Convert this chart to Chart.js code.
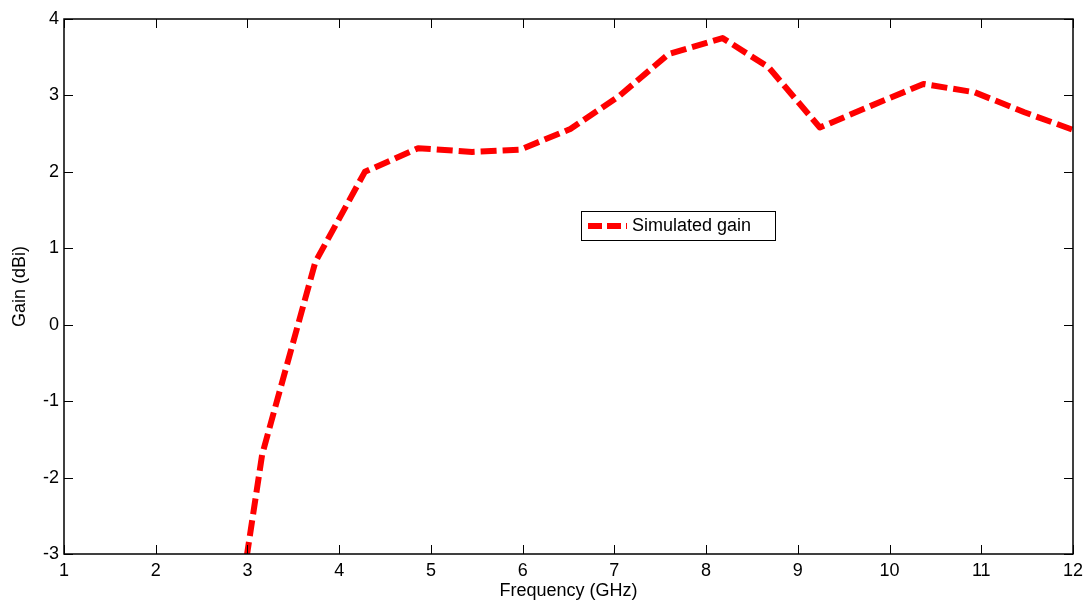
<!DOCTYPE html>
<html><head><meta charset="utf-8">
<script src="https://cdn.jsdelivr.net/npm/chart.js@4"></script>
<style>html,body{margin:0;padding:0;background:#fff}#wrap{width:1087px;height:601px}</style>
</head><body><div id="wrap"><canvas id="c" width="1087" height="601"></canvas></div>
<script>
const frequencies = [2.99, 3.16, 3.74, 4.28, 4.86, 5.45, 5.97, 6.52, 7.05, 7.59, 8.18, 8.68, 9.24, 9.79, 10.37, 10.93, 11.47, 12.0];
const gains = [-3.05, -1.70, 0.82, 2.00, 2.31, 2.26, 2.29, 2.56, 2.99, 3.54, 3.75, 3.37, 2.58, 2.86, 3.15, 3.04, 2.78, 2.55];
const xTicks = [1,2,3,4,5,6,7,8,9,10,11,12];
const yTicks = [-3,-2,-1,0,1,2,3,4];
const seriesLabel = 'Simulated gain';

const FONT = 'Liberation Sans, Arial, sans-serif';
const boxPlugin = {
  id: 'boxPlugin',
  afterDatasetsDraw(chart) {
    const {ctx, chartArea: a, scales} = chart;
    ctx.save();
    ctx.strokeStyle = '#000';
    ctx.lineWidth = 1;
    const L = 9;
    ctx.beginPath();
    xTicks.forEach(v => {
      const px = Math.round(scales.x.getPixelForValue(v)) + 0.5;
      ctx.moveTo(px, a.bottom); ctx.lineTo(px, a.bottom - L);
      ctx.moveTo(px, a.top); ctx.lineTo(px, a.top + L);
    });
    yTicks.forEach(v => {
      const py = Math.round(scales.y.getPixelForValue(v)) + 0.5;
      ctx.moveTo(a.left, py); ctx.lineTo(a.left + L, py);
      ctx.moveTo(a.right, py); ctx.lineTo(a.right - L, py);
    });
    ctx.stroke();
    ctx.lineWidth = 1.5;
    ctx.strokeRect(a.left, a.top, a.right - a.left, a.bottom - a.top);
    // legend
    const lx = 581, ly = 211, lw = 194, lh = 29;
    ctx.fillStyle = '#fff';
    ctx.fillRect(lx, ly, lw, lh);
    ctx.lineWidth = 1;
    ctx.strokeRect(lx + 0.5, ly + 0.5, lw, lh);
    ctx.strokeStyle = '#ff0000';
    ctx.lineWidth = 6;
    ctx.setLineDash([14, 5]);
    ctx.beginPath(); ctx.moveTo(588, 226); ctx.lineTo(627, 226); ctx.stroke();
    ctx.setLineDash([]);
    ctx.fillStyle = '#000';
    ctx.font = '18px ' + FONT;
    ctx.textBaseline = 'middle';
    ctx.textAlign = 'left';
    ctx.fillText(seriesLabel, 632, 226);
    ctx.restore();
  }
};

new Chart(document.getElementById('c'), {
  type: 'scatter',
  data: { datasets: [{
    label: seriesLabel,
    data: frequencies.map((f, i) => ({x: f, y: gains[i]})),
    showLine: true, tension: 0,
    borderColor: '#ff0000', backgroundColor: '#ff0000',
    borderWidth: 6, borderDash: [16, 6], pointRadius: 0,
    borderJoinStyle: 'round'
  }]},
  options: {
    responsive: false, animation: false, devicePixelRatio: 1,
    layout: { padding: { top: 19, right: 14, left: 0, bottom: 0 } },
    plugins: { legend: { display: false }, tooltip: { enabled: false } },
    scales: {
      x: {
        type: 'linear', min: 1, max: 12,
        afterBuildTicks: s => { s.ticks = xTicks.map(v => ({value: v})); },
        afterFit: s => { s.height = 47; s.paddingLeft = 0; s.paddingRight = 0; },
        grid: { display: false, drawTicks: false, tickLength: 0 }, border: { display: false },
        ticks: { color: '#000', font: { family: FONT, size: 18 }, padding: 6, maxRotation: 0 },
        title: { display: true, text: 'Frequency (GHz)', color: '#000', font: { family: FONT, size: 18 }, padding: { top: -4, bottom: -1 } }
      },
      y: {
        type: 'linear', min: -3, max: 4,
        afterBuildTicks: s => { s.ticks = yTicks.map(v => ({value: v})); },
        afterFit: s => { s.width = 64; s.paddingTop = 0; s.paddingBottom = 0; },
        grid: { display: false, drawTicks: false, tickLength: 0 }, border: { display: false },
        ticks: { color: '#000', font: { family: FONT, size: 18 }, padding: 5 },
        title: { display: true, text: 'Gain (dBi)', color: '#000', font: { family: FONT, size: 18 }, padding: { top: 9, bottom: 4 } }
      }
    }
  },
  plugins: [boxPlugin]
});
</script></body></html>
